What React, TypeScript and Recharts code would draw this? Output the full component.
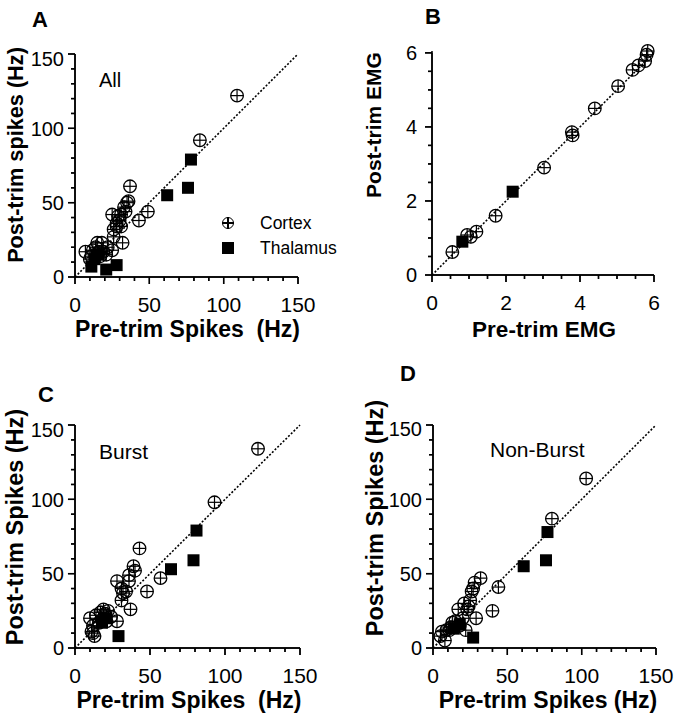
import React from 'react';
import { ScatterChart, Scatter, XAxis, YAxis, ReferenceLine } from 'recharts';

const FONT = '"Liberation Sans", Arial, Helvetica, sans-serif';

// tick values
const spikeTicks = [0, 10, 20, 30, 40, 50, 60, 70, 80, 90, 100, 110, 120, 130, 140, 150];
const spikeMajor = [0, 50, 100, 150];
const emgTicks = [0, 0.5, 1, 1.5, 2, 2.5, 3, 3.5, 4, 4.5, 5, 5.5, 6];
const emgMajor = [0, 2, 4, 6];

// Panel A (All)
const allCortex = [
  { x: 109, y: 122 }, { x: 84, y: 92 }, { x: 37, y: 61 }, { x: 36, y: 51 }, { x: 35, y: 50 },
  { x: 33, y: 47 }, { x: 25, y: 42 }, { x: 49, y: 44 }, { x: 43, y: 38 }, { x: 31, y: 42 },
  { x: 28, y: 36 }, { x: 30, y: 38 }, { x: 28, y: 34 }, { x: 26, y: 32 }, { x: 31, y: 34 },
  { x: 26, y: 27 }, { x: 32, y: 23 }, { x: 25, y: 18 }, { x: 7, y: 17 }, { x: 15, y: 23 },
  { x: 18, y: 23 }, { x: 12, y: 18 }, { x: 19, y: 17 }, { x: 17, y: 14 }, { x: 11, y: 14 },
  { x: 22, y: 20 }, { x: 14, y: 20 }, { x: 21, y: 15 }, { x: 16, y: 17 }, { x: 10, y: 12 },
  { x: 29, y: 41 }, { x: 34, y: 44 },
];
const allThalamus = [
  { x: 78, y: 79 }, { x: 76, y: 60 }, { x: 62, y: 55 }, { x: 28, y: 8 }, { x: 21, y: 5 },
  { x: 11, y: 7 }, { x: 13, y: 12 }, { x: 16, y: 15 },
];

// Panel B (EMG)
const emgCortex = [
  { x: 0.55, y: 0.62 }, { x: 0.95, y: 1.08 }, { x: 1.05, y: 1.03 }, { x: 1.2, y: 1.17 },
  { x: 1.72, y: 1.6 }, { x: 3.03, y: 2.9 }, { x: 3.78, y: 3.86 }, { x: 3.8, y: 3.77 },
  { x: 4.4, y: 4.5 }, { x: 5.03, y: 5.1 }, { x: 5.42, y: 5.54 }, { x: 5.58, y: 5.66 },
  { x: 5.76, y: 5.78 }, { x: 5.8, y: 5.95 }, { x: 5.83, y: 6.05 },
];
const emgThalamus = [{ x: 0.82, y: 0.9 }, { x: 2.18, y: 2.25 }];

// Panel C (Burst)
const burstCortex = [
  { x: 122, y: 134 }, { x: 93, y: 98 }, { x: 43, y: 67 }, { x: 57, y: 47 }, { x: 48, y: 38 },
  { x: 37, y: 26 }, { x: 39, y: 55 }, { x: 40, y: 52 }, { x: 36, y: 49 }, { x: 28, y: 45 },
  { x: 36, y: 45 }, { x: 31, y: 40 }, { x: 34, y: 38 }, { x: 31, y: 32 }, { x: 32, y: 37 },
  { x: 19, y: 26 }, { x: 22, y: 25 }, { x: 17, y: 24 }, { x: 10, y: 20 }, { x: 28, y: 18 },
  { x: 21, y: 18 }, { x: 12, y: 15 }, { x: 13, y: 8 }, { x: 11, y: 11 }, { x: 18, y: 19 },
  { x: 24, y: 21 }, { x: 14, y: 22 }, { x: 16, y: 17 }, { x: 12, y: 10 }, { x: 20, y: 23 },
];
const burstThalamus = [
  { x: 81, y: 79 }, { x: 79, y: 59 }, { x: 64, y: 53 }, { x: 29, y: 8 }, { x: 18, y: 17 }, { x: 21, y: 20 },
];

// Panel D (Non-Burst)
const nonBurstCortex = [
  { x: 103, y: 114 }, { x: 80, y: 87 }, { x: 32, y: 47 }, { x: 44, y: 41 }, { x: 40, y: 25 },
  { x: 29, y: 20 }, { x: 28, y: 44 }, { x: 26, y: 38 }, { x: 25, y: 32 }, { x: 21, y: 30 },
  { x: 17, y: 26 }, { x: 23, y: 26 }, { x: 20, y: 20 }, { x: 22, y: 12 }, { x: 13, y: 17 },
  { x: 9, y: 12 }, { x: 5, y: 8 }, { x: 8, y: 5 }, { x: 11, y: 12 }, { x: 18, y: 15 },
  { x: 15, y: 18 }, { x: 27, y: 40 }, { x: 24, y: 28 }, { x: 6, y: 11 }, { x: 12, y: 14 },
];
const nonBurstThalamus = [
  { x: 77, y: 78 }, { x: 76, y: 59 }, { x: 61, y: 55 }, { x: 27, y: 7 }, { x: 14, y: 13 }, { x: 18, y: 16 },
];

const R = 6.3;
const CortexShape = (props: any) => {
  const { cx, cy } = props;
  if (cx == null || cy == null) return <g />;
  return (
    <g>
      <circle cx={cx} cy={cy} r={R} fill="none" stroke="#000" strokeWidth={1.3} />
      <line x1={cx - R} y1={cy} x2={cx + R} y2={cy} stroke="#000" strokeWidth={1.2} />
      <line x1={cx} y1={cy - R} x2={cx} y2={cy + R} stroke="#000" strokeWidth={1.2} />
    </g>
  );
};
const ThalamusShape = (props: any) => {
  const { cx, cy } = props;
  if (cx == null || cy == null) return <g />;
  return <rect x={cx - 6} y={cy - 6} width={12} height={12} fill="#000" />;
};

const makeYTick = (major: number[], gap: number, topVal: number, topShift: number) => (props: any) => {
  const { x, y, payload } = props;
  const v = payload.value;
  const isMajor = major.includes(v);
  const len = isMajor ? 7 : 4;
  return (
    <g>
      <line x1={x - len} y1={y} x2={x} y2={y} stroke="#000" strokeWidth={1.4} />
      {isMajor && (
        <text x={x - gap} y={y + (v === topVal ? topShift : 0)} dy="0.36em" textAnchor="end"
          fontSize={20} fontFamily={FONT} fill="#000">{v}</text>
      )}
    </g>
  );
};
const makeXTick = (major: number[]) => (props: any) => {
  const { x, y, payload } = props;
  const v = payload.value;
  const isMajor = major.includes(v);
  const len = isMajor ? 7 : 4;
  return (
    <g>
      <line x1={x} y1={y} x2={x} y2={y + len} stroke="#000" strokeWidth={1.4} />
      {isMajor && (
        <text x={x} y={y + 35} textAnchor="middle" fontSize={21} fontFamily={FONT} fill="#000">{v}</text>
      )}
    </g>
  );
};

function Panel({ left, top, width, height, margin, domain, ticks, major, cortex, thalamus, yGap, topShift }: any) {
  const lo = domain[0];
  const hi = domain[1];
  const unit = (hi - lo) / 223; // data units per pixel of the plot
  const tickLen = (v: number) => (major.includes(v) ? 7 : 4) * unit;
  return (
    <div style={{ position: 'absolute', left, top, width, height }}>
      <ScatterChart width={width} height={height} margin={margin}>
        <XAxis type="number" dataKey="x" domain={domain} ticks={ticks} interval={0}
          tickSize={0} tickMargin={0} tickLine={false} height={60}
          axisLine={{ stroke: '#000', strokeWidth: 1.5 }} tick={makeXTick(major)} />
        <YAxis type="number" dataKey="y" domain={domain} ticks={ticks} interval={0}
          tickSize={0} tickMargin={0} tickLine={false} width={60}
          axisLine={{ stroke: '#000', strokeWidth: 1.5 }}
          tick={makeYTick(major, yGap, hi, topShift)} />
        {/* axis frame lines */}
        <ReferenceLine segment={[{ x: lo, y: lo }, { x: hi, y: lo }]} ifOverflow="visible" stroke="#000" strokeWidth={1.5} />
        <ReferenceLine segment={[{ x: lo, y: lo }, { x: lo, y: hi }]} ifOverflow="visible" stroke="#000" strokeWidth={1.5} />
        {/* tick marks */}
        {ticks.map((v: number) => (
          <ReferenceLine key={`xt${v}`} segment={[{ x: v, y: lo }, { x: v, y: lo - tickLen(v) }]}
            ifOverflow="visible" stroke="#000" strokeWidth={1.4} />
        ))}
        {ticks.map((v: number) => (
          <ReferenceLine key={`yt${v}`} segment={[{ x: lo - tickLen(v), y: v }, { x: lo, y: v }]}
            ifOverflow="visible" stroke="#000" strokeWidth={1.4} />
        ))}
        <ReferenceLine segment={[{ x: lo, y: lo }, { x: hi, y: hi }]}
          stroke="#000" strokeWidth={1.6} strokeDasharray="2 1.8" />
        <Scatter data={cortex} shape={CortexShape} isAnimationActive={false} />
        <Scatter data={thalamus} shape={ThalamusShape} isAnimationActive={false} />
      </ScatterChart>
    </div>
  );
}

// HTML text helpers (baseline-positioned)
const ASC = 0.8465;
const HText = ({ x, y, size, bold, center, children }: any) => (
  <div style={{
    position: 'absolute', left: x, top: y - ASC * size, fontSize: size, lineHeight: `${size}px`,
    fontWeight: bold ? 700 : 400, fontFamily: FONT, whiteSpace: 'pre', color: '#000',
    transform: center ? 'translateX(-50%)' : undefined,
  }}>{children}</div>
);
const VText = ({ x, y, size, children }: any) => (
  <div style={{ position: 'absolute', left: x, top: y, width: 0, height: 0, transform: 'rotate(-90deg)', transformOrigin: '0 0' }}>
    <div style={{
      position: 'absolute', left: 0, top: -ASC * size, transform: 'translateX(-50%)', fontSize: size,
      lineHeight: `${size}px`, fontWeight: 700, fontFamily: FONT, whiteSpace: 'pre', color: '#000',
    }}>{children}</div>
  </div>
);

export default function App() {
  return (
    <div style={{ position: 'absolute', left: 0, top: 0, width: 677, height: 719, background: '#fff' }}>
      <Panel left={0} top={0} width={340} height={360}
        margin={{ top: 54, right: 42, bottom: 23, left: 15 }} domain={[0, 150]} ticks={spikeTicks}
        major={spikeMajor} cortex={allCortex} thalamus={allThalamus} yGap={11} topShift={5} />
      <Panel left={340} top={0} width={337} height={360}
        margin={{ top: 51, right: 23, bottom: 25, left: 32 }} domain={[0, 6]} ticks={emgTicks}
        major={emgMajor} cortex={emgCortex} thalamus={emgThalamus} yGap={15} topShift={0} />
      <Panel left={0} top={360} width={340} height={359}
        margin={{ top: 65, right: 40, bottom: 11, left: 15 }} domain={[0, 150]} ticks={spikeTicks}
        major={spikeMajor} cortex={burstCortex} thalamus={burstThalamus} yGap={11} topShift={5} />
      <Panel left={340} top={360} width={337} height={359}
        margin={{ top: 65, right: 21, bottom: 11, left: 33 }} domain={[0, 150]} ticks={spikeTicks}
        major={spikeMajor} cortex={nonBurstCortex} thalamus={nonBurstThalamus} yGap={11} topShift={4} />

      {/* panel letters */}
      <HText x={32} y={28} size={22} bold>A</HText>
      <HText x={425} y={25} size={22} bold>B</HText>
      <HText x={38} y={403} size={22} bold>C</HText>
      <HText x={400} y={382} size={22} bold>D</HText>

      {/* in-plot titles */}
      <HText x={99} y={87} size={20}>All</HText>
      <HText x={99} y={459} size={21}>Burst</HText>
      <HText x={490} y={457} size={21}>Non-Burst</HText>

      {/* legend */}
      <div style={{ position: 'absolute', left: 228 - R, top: 223 - R, width: 2 * R, height: 2 * R, boxSizing: 'border-box', border: '1.3px solid #000', borderRadius: '50%' }} />
      <div style={{ position: 'absolute', left: 228 - R, top: 222.4, width: 2 * R, height: 1.2, background: '#000' }} />
      <div style={{ position: 'absolute', left: 227.4, top: 223 - R, width: 1.2, height: 2 * R, background: '#000' }} />
      <HText x={260} y={230} size={17.5}>Cortex</HText>
      <div style={{ position: 'absolute', left: 222, top: 242, width: 12, height: 12, background: '#000' }} />
      <HText x={260} y={255} size={17.5}>Thalamus</HText>

      {/* x titles */}
      <HText x={187.5} y={337} size={23} bold center>{'Pre-trim Spikes  (Hz)'}</HText>
      <HText x={544} y={338} size={22.5} bold center>Pre-trim EMG</HText>
      <HText x={189} y={708} size={23} bold center>{'Pre-trim Spikes  (Hz)'}</HText>
      <HText x={548} y={708} size={23} bold center>Pre-trim Spikes (Hz)</HText>

      {/* y titles */}
      <VText x={23} y={155} size={21.7}>Post-trim spikes (Hz)</VText>
      <VText x={381} y={125} size={21}>Post-trim EMG</VText>
      <VText x={24} y={527} size={23.5}>Post-trim Spikes (Hz)</VText>
      <VText x={384} y={518} size={23.5}>Post-trim Spikes (Hz)</VText>
    </div>
  );
}
